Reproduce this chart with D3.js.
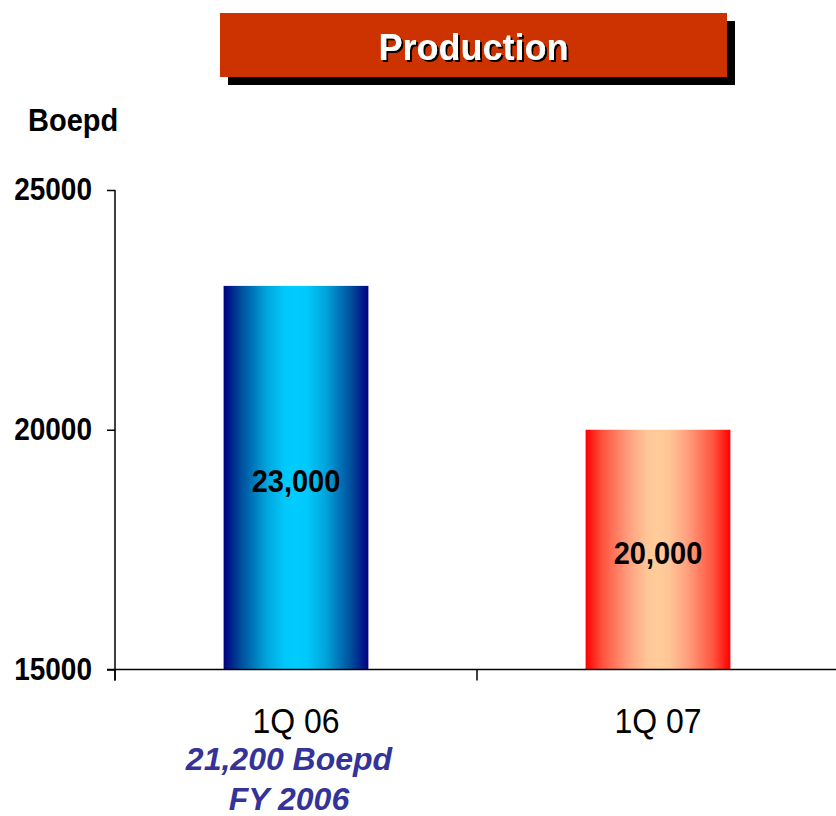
<!DOCTYPE html>
<html>
<head>
<meta charset="utf-8">
<script src="https://cdn.jsdelivr.net/npm/d3@7"></script>
<style>
  html, body { margin: 0; padding: 0; background: #fff; }
  svg { display: block; }
  text { font-family: "Liberation Sans", Arial, sans-serif; }
</style>
</head>
<body>
<svg id="chart" width="836" height="816"></svg>
<script>
const categories = ["1Q 06", "1Q 07"];
const values = [23000, 20000];
const valueLabels = ["23,000", "20,000"];
const yTicks = [15000, 20000, 25000];
const titleText = "Production";
const yAxisTitle = "Boepd";
const noteLines = ["21,200 Boepd", "FY 2006"];

const svg = d3.select("#chart");
const defs = svg.append("defs");
const SY = 1.1; // vertical stretch of text as in the reference

// gradients
const grads = [
  { id: "gBlue", stops: ["#000080", "#004E9C", "#00A6DD", "#00C8FA", "#00CCFF"] },
  { id: "gRed", stops: ["#FF0000", "#FF5540", "#FFA07F", "#FFC596", "#FFCC99"] }
];
const offs = [0, 0.12, 0.3, 0.42, 0.5];
grads.forEach(g => {
  const lg = defs.append("linearGradient").attr("id", g.id)
    .attr("x1", "0%").attr("x2", "100%").attr("y1", "0%").attr("y2", "0%");
  offs.forEach((o, i) => lg.append("stop").attr("offset", o).attr("stop-color", g.stops[i]));
  offs.slice(0, -1).reverse().forEach((o, k) => {
    const i = offs.length - 2 - k;
    lg.append("stop").attr("offset", 1 - o).attr("stop-color", g.stops[i]);
  });
});

// text shadow filter for the title
const f = defs.append("filter").attr("id", "tshadow")
  .attr("x", "-10%").attr("y", "-20%").attr("width", "120%").attr("height", "150%");
f.append("feOffset").attr("in", "SourceAlpha").attr("dx", 2).attr("dy", 2).attr("result", "off");
f.append("feFlood").attr("flood-color", "#000").attr("result", "blk");
f.append("feComposite").attr("in", "blk").attr("in2", "off").attr("operator", "in").attr("result", "sh");
const fm = f.append("feMerge");
fm.append("feMergeNode").attr("in", "sh");
fm.append("feMergeNode").attr("in", "SourceGraphic");

const plotLeft = 115, plotRight = 839, plotTop = 190, plotBottom = 669.5;

const x = d3.scaleBand().domain(categories).range([plotLeft, plotRight])
  .paddingInner(0.6).paddingOuter(0.3);
const y = d3.scaleLinear().domain([15000, 25000]).range([plotBottom, plotTop]);

function place(sel, fx, fy) {
  return sel.attr("transform", (d, i) => `translate(${fx(d, i)},${fy(d, i)}) scale(1,${SY})`);
}

// Title box
const tb = { x: 220, y: 13, w: 507, h: 64 };
svg.append("rect").attr("x", tb.x + 8).attr("y", tb.y + 8).attr("width", tb.w).attr("height", tb.h).attr("fill", "#000");
svg.append("rect").attr("x", tb.x).attr("y", tb.y).attr("width", tb.w).attr("height", tb.h).attr("fill", "#CC3300");
svg.append("text").attr("x", tb.x + tb.w / 2).attr("y", 60)
  .attr("text-anchor", "middle").attr("font-size", 36).attr("font-weight", "bold")
  .attr("fill", "#fff").attr("filter", "url(#tshadow)").text(titleText);

// y axis title
place(svg.append("text").datum(yAxisTitle), () => 28, () => 131)
  .attr("font-size", 29).attr("font-weight", "bold").attr("fill", "#000").text(yAxisTitle);

// bars
const colors = ["url(#gBlue)", "url(#gRed)"];
svg.append("g").selectAll("rect").data(values).join("rect")
  .attr("x", (d, i) => x(categories[i]))
  .attr("y", d => y(d))
  .attr("width", x.bandwidth())
  .attr("height", d => y(15000) - y(d))
  .attr("fill", (d, i) => colors[i]);

// value labels
place(svg.append("g").selectAll("text").data(values).join("text"),
  (d, i) => x(categories[i]) + x.bandwidth() / 2,
  d => (y(d) + y(15000)) / 2 + 14)
  .attr("text-anchor", "middle").attr("font-size", 29).attr("font-weight", "bold")
  .attr("fill", "#000").text((d, i) => valueLabels[i]);

// y axis
const yAxis = d3.axisLeft(y).tickValues(yTicks).tickSize(8).tickPadding(15).tickFormat(d3.format("d"));
const gy = svg.append("g").attr("transform", `translate(${plotLeft},0)`).call(yAxis);
gy.select(".domain").remove();
gy.selectAll(".tick line").attr("stroke", "#000").attr("stroke-width", 1.5);
gy.selectAll(".tick text").attr("font-size", 28).attr("font-weight", "bold").attr("fill", "#000")
  .attr("font-family", "'Liberation Sans', Arial, sans-serif")
  .attr("transform", `scale(1,${SY})`);

// x axis
svg.append("line").attr("x1", plotLeft - 8).attr("x2", 836).attr("y1", plotBottom).attr("y2", plotBottom)
  .attr("stroke", "#000").attr("stroke-width", 1.5);
const boundaries = d3.range(categories.length + 1).map(i => plotLeft + i * x.step());
svg.append("g").selectAll("line").data(boundaries).join("line")
  .attr("x1", d => d).attr("x2", d => d).attr("y1", plotBottom).attr("y2", plotBottom + 11)
  .attr("stroke", "#000").attr("stroke-width", 1.5);
svg.append("line").attr("x1", plotLeft).attr("x2", plotLeft).attr("y1", plotTop).attr("y2", plotBottom + 11)
  .attr("stroke", "#000").attr("stroke-width", 1.5);

place(svg.append("g").selectAll("text").data(categories).join("text"),
  d => x(d) + x.bandwidth() / 2, () => 733)
  .attr("text-anchor", "middle").attr("font-size", 32).attr("fill", "#000")
  .text(d => d);

// note
svg.append("g").selectAll("text").data(noteLines).join("text")
  .attr("x", 289)
  .attr("y", (d, i) => 770 + i * 40)
  .attr("text-anchor", "middle").attr("font-size", 32).attr("font-weight", "bold")
  .attr("font-style", "italic").attr("fill", "#333399")
  .text(d => d);
</script>
</body>
</html>
